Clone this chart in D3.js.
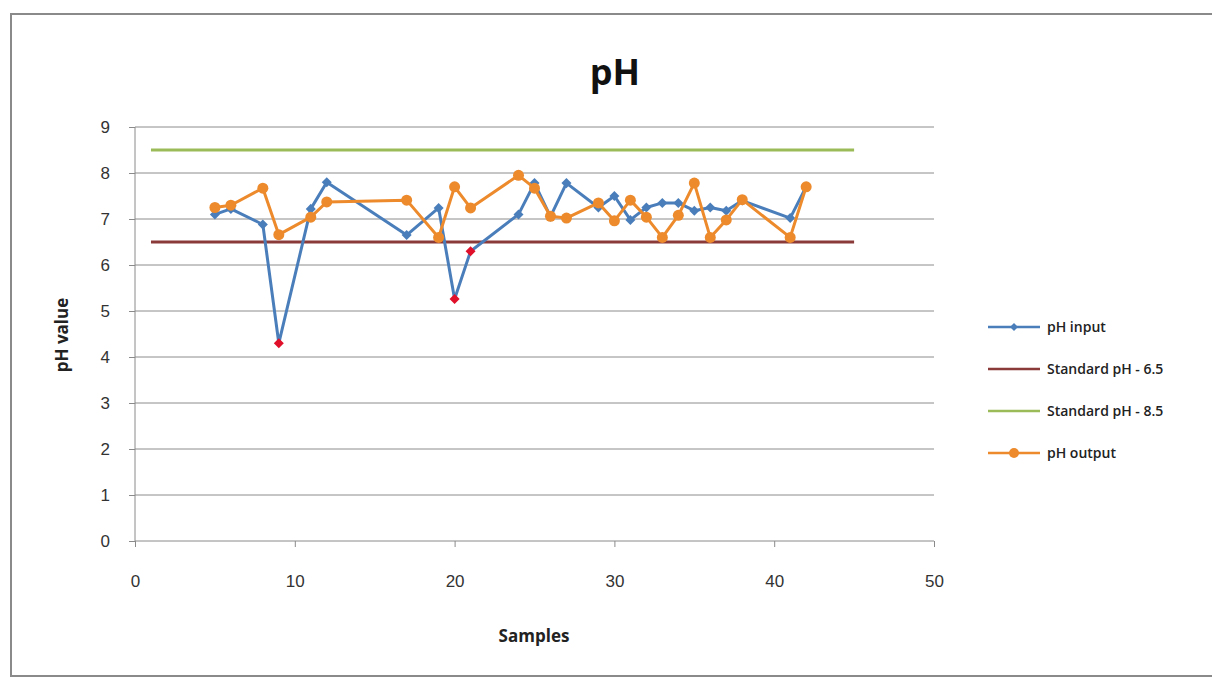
<!DOCTYPE html>
<html lang="en">
  <head>
    <meta charset="UTF-8" />
    <title>pH</title>
    <script src="https://d3js.org/d3.v7.min.js"></script>
    <style>
      * {
        margin: 0;
        padding: 0;
        box-sizing: border-box;
      }
      body {
        background: #ffffff;
        font-family: "Open Sans", "Liberation Sans", sans-serif;
      }
      .axis text {
        font-size: 17px;
        fill: #333;
      }
      .axis path,
      .axis line {
        stroke: #8a8a8a;
      }
      .grid line {
        stroke: #8c8c8c;
        stroke-width: 1;
      }
      .axis-label {
        font-size: 17px;
        font-weight: 700;
        fill: #222;
      }
      .legend-text {
        font-size: 14px;
        font-weight: 600;
        fill: #222;
      }
    </style>
  </head>
  <body>
    <div id="chart"></div>
    <script>
      // sample numbers (x) shared by both series
      const samples = [5, 6, 8, 9, 11, 12, 17, 19, 20, 21, 24, 25, 26, 27, 29, 30, 31, 32, 33, 34, 35, 36, 37, 38, 41, 42];
      const phInput = [7.1, 7.22, 6.88, 4.3, 7.22, 7.8, 6.65, 7.24, 5.26, 6.3, 7.1, 7.78, 7.05, 7.78, 7.25, 7.5, 6.98, 7.25, 7.35, 7.35, 7.18, 7.25, 7.18, 7.4, 7.02, 7.7];
      const phOutput = [7.25, 7.3, 7.67, 6.66, 7.04, 7.37, 7.41, 6.6, 7.7, 7.24, 7.95, 7.67, 7.06, 7.02, 7.35, 6.96, 7.41, 7.04, 6.6, 7.08, 7.78, 6.6, 6.98, 7.42, 6.6, 7.7];
      const stdRange = [1, 45];
      const stdLow = 6.5;
      const stdHigh = 8.5;
      const xTicks = [0, 10, 20, 30, 40, 50];
      const yTicks = [0, 1, 2, 3, 4, 5, 6, 7, 8, 9];
      const legendNames = ["pH input", "Standard pH - 6.5", "Standard pH - 8.5", "pH output"];

      const colors = {
        input: "#4a7ebb",
        low: "#8b3a3a",
        high: "#9bbb59",
        output: "#ec8a2c",
        alert: "#e0102a",
      };

      const W = 1212,
        H = 678;
      const margin = { top: 127, right: 278, bottom: 137, left: 135 };
      const width = W - margin.left - margin.right,
        height = H - margin.top - margin.bottom;

      const svg = d3
        .select("#chart")
        .append("svg")
        .attr("width", W)
        .attr("height", H);

      // chart frame
      svg
        .append("rect")
        .attr("x", 11)
        .attr("y", 14)
        .attr("width", W + 10)
        .attr("height", H - 16)
        .attr("fill", "none")
        .attr("stroke", "#8a8a8a")
        .attr("stroke-width", 2);

      const g = svg
        .append("g")
        .attr("transform", `translate(${margin.left},${margin.top})`);

      const x = d3.scaleLinear().domain([0, 50]).range([0, width]);
      const y = d3.scaleLinear().domain([0, 9]).range([height, 0]);

      // gridlines
      g.append("g")
        .attr("class", "grid")
        .selectAll("line")
        .data(yTicks.filter((d) => d > 0))
        .enter()
        .append("line")
        .attr("x1", 0)
        .attr("x2", width)
        .attr("y1", (d) => y(d))
        .attr("y2", (d) => y(d));

      // axes
      g.append("g")
        .attr("class", "axis")
        .attr("transform", `translate(0,${height})`)
        .call(d3.axisBottom(x).tickValues(xTicks).tickSize(6).tickPadding(28))
        .call((s) => s.select(".domain").attr("d", `M0,0H${width}`));

      g.append("g")
        .attr("class", "axis")
        .call(d3.axisLeft(y).tickValues(yTicks).tickSize(6).tickPadding(19))
        .call((s) => s.select(".domain").attr("d", `M0,0V${height}`));

      // standard lines
      g.append("line")
        .attr("x1", x(stdRange[0]))
        .attr("x2", x(stdRange[1]))
        .attr("y1", y(stdLow))
        .attr("y2", y(stdLow))
        .attr("stroke", colors.low)
        .attr("stroke-width", 3);

      g.append("line")
        .attr("x1", x(stdRange[0]))
        .attr("x2", x(stdRange[1]))
        .attr("y1", y(stdHigh))
        .attr("y2", y(stdHigh))
        .attr("stroke", colors.high)
        .attr("stroke-width", 3);

      const inputData = samples.map((s, i) => ({ s, v: phInput[i] }));
      const outputData = samples.map((s, i) => ({ s, v: phOutput[i] }));

      const line = d3
        .line()
        .x((d) => x(d.s))
        .y((d) => y(d.v));

      const diamond = d3.symbol().type(d3.symbolDiamond2).size(64);

      // pH input
      g.append("path")
        .datum(inputData)
        .attr("fill", "none")
        .attr("stroke", colors.input)
        .attr("stroke-width", 3)
        .attr("stroke-linejoin", "round")
        .attr("d", line);

      g.selectAll(".in-mark")
        .data(inputData)
        .enter()
        .append("path")
        .attr("class", "in-mark")
        .attr("transform", (d) => `translate(${x(d.s)},${y(d.v)})`)
        .attr("d", diamond)
        .attr("fill", (d) => (d.v < stdLow ? colors.alert : colors.input));

      // pH output
      g.append("path")
        .datum(outputData)
        .attr("fill", "none")
        .attr("stroke", colors.output)
        .attr("stroke-width", 3)
        .attr("stroke-linejoin", "round")
        .attr("d", line);

      g.selectAll(".out-mark")
        .data(outputData)
        .enter()
        .append("circle")
        .attr("class", "out-mark")
        .attr("cx", (d) => x(d.s))
        .attr("cy", (d) => y(d.v))
        .attr("r", 5.5)
        .attr("fill", colors.output);

      // title and axis labels
      svg
        .append("text")
        .attr("x", 615)
        .attr("y", 85)
        .attr("text-anchor", "middle")
        .style("font-size", "36px")
        .style("font-weight", "700")
        .style("fill", "#111")
        .text("pH");

      svg
        .append("text")
        .attr("class", "axis-label")
        .attr("transform", "translate(68,335) rotate(-90)")
        .attr("text-anchor", "middle")
        .text("pH value");

      svg
        .append("text")
        .attr("class", "axis-label")
        .attr("x", 534)
        .attr("y", 642)
        .attr("text-anchor", "middle")
        .text("Samples");

      // legend
      const legendColors = [colors.input, colors.low, colors.high, colors.output];
      const lg = svg
        .append("g")
        .selectAll("g")
        .data(legendNames)
        .enter()
        .append("g")
        .attr("transform", (d, i) => `translate(988,${327 + i * 42})`);

      lg.append("line")
        .attr("x1", 0)
        .attr("x2", 52)
        .attr("stroke", (d, i) => legendColors[i])
        .attr("stroke-width", 2.5);

      lg.filter((d, i) => i === 0)
        .append("path")
        .attr("transform", "translate(26,0)")
        .attr("d", d3.symbol().type(d3.symbolDiamond2).size(40))
        .attr("fill", colors.input);

      lg.filter((d, i) => i === 3)
        .append("circle")
        .attr("cx", 26)
        .attr("r", 5)
        .attr("fill", colors.output);

      lg.append("text")
        .attr("class", "legend-text")
        .attr("x", 59)
        .attr("dy", "0.35em")
        .text((d) => d);
    </script>
  </body>
</html>
